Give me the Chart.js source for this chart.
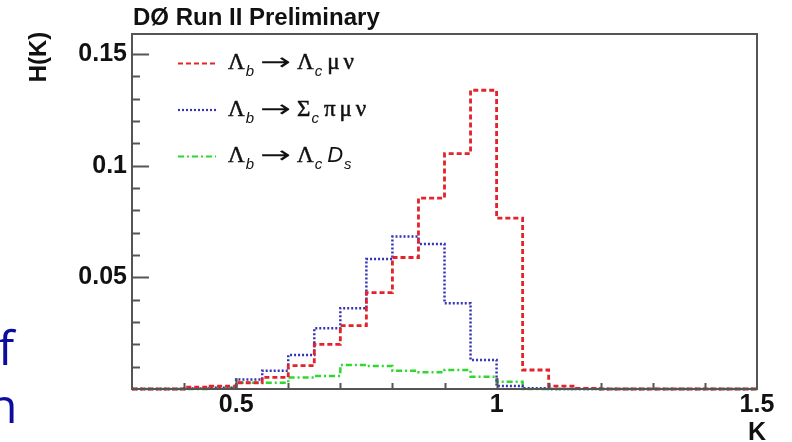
<!DOCTYPE html>
<html>
<head>
<meta charset="utf-8">
<script src="https://cdn.jsdelivr.net/npm/chart.js@4/dist/chart.umd.min.js"></script>
<style>
  html, body { margin: 0; padding: 0; background: #fff; overflow: hidden; }
  canvas { display: block; }
</style>
</head>
<body>
<canvas id="c" width="792" height="442"></canvas>
<script>
// Lower edges of the K bins (bin width 0.05)
const kLow = [0.30, 0.35, 0.40, 0.45, 0.50, 0.55, 0.60, 0.65, 0.70, 0.75, 0.80, 0.85,
              0.90, 0.95, 1.00, 1.05, 1.10, 1.15, 1.20, 1.25, 1.30, 1.35, 1.40, 1.45];
const binWidth = 0.05;

// H(K) per bin for each decay channel
const lambdaCMuNu = [0, 0, 0.0008, 0.0013, 0.0028, 0.0052, 0.0105, 0.0200, 0.0284, 0.0432, 0.0589, 0.0855,
                     0.1054, 0.1338, 0.0765, 0.0085, 0.0013, 0.0003, 0, 0, 0, 0, 0, 0];
const sigmaCPiMuNu = [0, 0, 0.0002, 0.0006, 0.0043, 0.0082, 0.0152, 0.0272, 0.0362, 0.0582, 0.0683, 0.0649,
                      0.0384, 0.0130, 0.0013, 0.0003, 0, 0, 0, 0, 0, 0, 0, 0];
const lambdaCDs = [0, 0, 0, 0.0004, 0.0028, 0.0028, 0.0051, 0.0058, 0.0108, 0.0103, 0.0082, 0.0075,
                   0.0085, 0.0055, 0.0033, 0, 0, 0, 0, 0, 0, 0, 0, 0];

// Legend labels: "_{..}" marks a subscript, "*..*" marks italic text
const seriesLabels = ['Λ_{b} → Λ_{c} μ ν', 'Λ_{b} → Σ_{c} π μ ν', 'Λ_{b} → Λ_{c} *D*_{s}'];

const xTickValues = [0.5, 1, 1.5];
const yTickValues = [0.05, 0.1, 0.15];

const titleText = 'DØ Run II Preliminary';
const xTitle = 'K';
const yTitle = 'H(K)';
const sideText = ['f', 'n'];

// Turn per-bin values into step points: each bin's left edge, plus the final right edge
function toSteps(values) {
  const pts = kLow.map((k, i) => ({ x: k, y: values[i] }));
  pts.push({ x: kLow[kLow.length - 1] + binWidth, y: values[values.length - 1] });
  return pts;
}

const seriesStyle = [
  { color: '#e3222b', dash: [5, 3], width: 2.8 },
  { color: '#3535b4', dash: [2, 2], width: 2.5 },
  { color: '#2fd82f', dash: [6, 3, 2, 3], width: 2.5 }
];
const seriesData = [lambdaCMuNu, sigmaCPiMuNu, lambdaCDs];

const datasets = seriesData.map((vals, i) => ({
  label: seriesLabels[i],
  data: toSteps(vals),
  stepped: true,
  borderColor: seriesStyle[i].color,
  borderDash: seriesStyle[i].dash,
  borderWidth: seriesStyle[i].width,
  pointRadius: 0,
  fill: false,
  clip: 6
}));

const AXIS_FONT = { family: '"Liberation Sans", Arial, sans-serif', size: 25, weight: 'bold' };

// Frame, inward ticks, titles and the math-style legend
const decorations = {
  id: 'decorations',
  afterDraw(chart) {
    const { ctx, chartArea: a, scales } = chart;
    const xs = scales.x, ys = scales.y;
    ctx.save();

    // frame
    ctx.strokeStyle = '#555';
    ctx.lineWidth = 2;
    ctx.setLineDash([]);
    ctx.strokeRect(a.left, a.top, a.right - a.left, a.bottom - a.top);

    // y ticks every 0.01, long at every 0.05
    for (let i = 1; i <= 15; i++) {
      const y = Math.round(ys.getPixelForValue(i / 100)) + 0.5;
      const len = i % 5 === 0 ? 17 : 8;
      ctx.beginPath();
      ctx.moveTo(a.left, y);
      ctx.lineTo(a.left + len, y);
      ctx.stroke();
    }
    // x ticks every 0.1, long at every 0.5
    for (let i = 4; i <= 14; i++) {
      const x = Math.round(xs.getPixelForValue(i / 10)) + 0.5;
      const len = i % 5 === 0 ? 11 : 6;
      ctx.beginPath();
      ctx.moveTo(x, a.bottom);
      ctx.lineTo(x, a.bottom - len);
      ctx.stroke();
    }

    // title and axis titles
    ctx.fillStyle = '#111';
    ctx.textBaseline = 'alphabetic';
    ctx.font = 'bold 24px "Liberation Sans", Arial, sans-serif';
    ctx.textAlign = 'left';
    ctx.fillText(titleText, a.left + 1, 25);

    ctx.font = 'bold 25px "Liberation Sans", Arial, sans-serif';
    ctx.textAlign = 'center';
    ctx.fillText(xTitle, a.right, 440);

    ctx.save();
    ctx.translate(46, 57);
    ctx.rotate(-Math.PI / 2);
    ctx.font = 'bold 24px "Liberation Sans", Arial, sans-serif';
    ctx.textAlign = 'center';
    ctx.fillText(yTitle, 0, 0);
    ctx.restore();

    // legend
    const rowBase = [69, 115.5, 162];
    chart.data.datasets.forEach((ds, i) => {
      const base = rowBase[i];
      ctx.strokeStyle = ds.borderColor;
      ctx.lineWidth = 2.2;
      ctx.setLineDash(ds.borderDash);
      ctx.beginPath();
      ctx.moveTo(178, base - 5.5);
      ctx.lineTo(216, base - 5.5);
      ctx.stroke();
      ctx.setLineDash([]);
      drawMathLabel(ctx, ds.label, 228, base);
    });

    // fragments of neighbouring slide text
    ctx.fillStyle = '#0c0c9e';
    ctx.textAlign = 'left';
    ctx.font = '48px "Open Sans", sans-serif';
    ctx.fillText(sideText[0], -2, 365);
    ctx.fillText(sideText[1], -12, 423);

    ctx.restore();
  }
};

// Draws a label with subscripts, italics and a wide arrow, left to right from x
function drawMathLabel(ctx, text, x, base) {
  const re = /_\{([^}]*)\}|\*([^*]*)\*|([^_*]+)/g;
  const serif = '23px "Liberation Serif", "DejaVu Serif", serif';
  let m;
  ctx.fillStyle = '#111';
  ctx.textAlign = 'left';
  while ((m = re.exec(text)) !== null) {
    if (m[1] !== undefined) {
      ctx.font = 'italic 15px "Liberation Sans", Arial, sans-serif';
      ctx.fillText(m[1], x + 1, base + 7);
      x += ctx.measureText(m[1]).width + 2;
    } else if (m[2] !== undefined) {
      ctx.font = 'italic 22px "Liberation Sans", Arial, sans-serif';
      ctx.fillText(m[2], x, base);
      x += ctx.measureText(m[2]).width;
    } else {
      ctx.font = serif;
      const parts = m[3].split(' ');
      parts.forEach((p, j) => {
        if (j > 0) x += 4;
        if (!p) return;
        if (p === '→') {
          // arrow stretched to a fixed width
          ctx.save();
          ctx.font = '24px "DejaVu Sans", sans-serif';
          const w = ctx.measureText(p).width;
          ctx.translate(x + 1, base + 1);
          ctx.scale(31 / w, 1);
          ctx.fillText(p, 0, 0);
          ctx.restore();
          x += 34;
        } else {
          ctx.fillText(p, x, base);
          ctx.lineWidth = 0.5;
          ctx.strokeStyle = '#111';
          ctx.strokeText(p, x, base);
          x += ctx.measureText(p).width;
        }
      });
    }
  }
}

new Chart(document.getElementById('c'), {
  type: 'line',
  data: { datasets },
  options: {
    responsive: false,
    animation: false,
    devicePixelRatio: 1,
    layout: { padding: { left: 0, top: 34, right: 35, bottom: 0 } },
    plugins: { legend: { display: false }, tooltip: { enabled: false }, title: { display: false } },
    scales: {
      x: {
        type: 'linear',
        min: 0.3,
        max: 1.5,
        afterBuildTicks: s => { s.ticks = xTickValues.map(v => ({ value: v })); },
        afterFit: s => { s.height = 53; },
        grid: { display: false, drawTicks: false },
        border: { display: false },
        ticks: {
          font: AXIS_FONT, color: '#111', padding: 1,
          maxRotation: 0, autoSkip: false,
          callback: v => String(v)
        }
      },
      y: {
        min: 0,
        max: 0.159,
        afterBuildTicks: s => { s.ticks = yTickValues.map(v => ({ value: v })); },
        afterFit: s => { s.width = 132; },
        grid: { display: false, drawTicks: false },
        border: { display: false },
        ticks: {
          font: AXIS_FONT, color: '#111', padding: 5,
          autoSkip: false,
          callback: v => String(v)
        }
      }
    }
  },
  plugins: [decorations]
});
</script>
</body>
</html>
